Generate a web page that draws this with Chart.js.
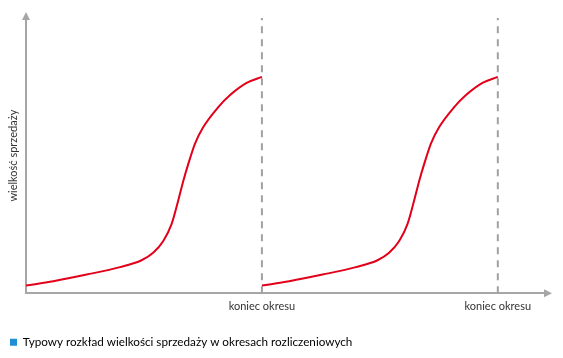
<!DOCTYPE html>
<html><head><meta charset="utf-8">
<script src="https://cdn.jsdelivr.net/npm/chart.js@4"></script>
<style>html,body{margin:0;padding:0;background:#fff}#wrap{width:563px;height:358px;position:relative}</style>
</head><body><div id="wrap"><canvas id="c" width="563" height="358"></canvas></div>
<script>
const periodX = [0, 0.116, 0.257, 0.398, 0.490, 0.539, 0.582, 0.617, 0.645, 0.667, 0.688, 0.716, 0.751, 0.815, 0.864, 0.935, 1.0];
const period2X = [1.0, 1.116, 1.257, 1.398, 1.490, 1.539, 1.582, 1.617, 1.645, 1.667, 1.688, 1.716, 1.751, 1.815, 1.864, 1.935, 2.0];
const salesPeriod1 = [2.8, 4.4, 6.8, 9.5, 12.0, 14.7, 19.0, 25.1, 33.6, 40.9, 47.0, 54.3, 60.3, 67.6, 71.9, 76.4, 78.6];
const salesPeriod2 = [2.8, 4.4, 6.8, 9.5, 12.0, 14.7, 19.0, 25.1, 33.6, 40.9, 47.0, 54.3, 60.3, 67.6, 71.9, 76.4, 78.6];
const periodEnds = [1, 2];
const tickLabel = 'koniec okresu';
const yTitle = 'wielkość sprzedaży';
const legendText = 'Typowy rozkład wielkości sprzedaży w okresach rozliczeniowych';

const FONT = 'Lato';
const toPts = (xs, ys) => xs.map((x, i) => ({x, y: ys[i]}));
const red = '#e2001a', gray = '#a6a6a6';

const datasets = [
  {data: toPts(periodX, salesPeriod1), borderColor: red, borderWidth: 2, pointRadius: 0, cubicInterpolationMode: 'monotone', fill: false},
  {data: toPts(period2X, salesPeriod2), borderColor: red, borderWidth: 2, pointRadius: 0, cubicInterpolationMode: 'monotone', fill: false}
];
periodEnds.forEach(px => datasets.push({data: [{x: px, y: 0}, {x: px, y: 100}], borderColor: '#a0a0a0', borderWidth: 2, borderDash: [7, 6], pointRadius: 0, fill: false, order: 5}));

const arrows = {
  id: 'arrows',
  afterDraw(chart) {
    const {ctx, chartArea: a} = chart;
    ctx.save();
    ctx.fillStyle = gray;
    ctx.beginPath();
    ctx.moveTo(a.left, a.top - 6); ctx.lineTo(a.left - 4, a.top + 2); ctx.lineTo(a.left + 4, a.top + 2); ctx.closePath(); ctx.fill();
    ctx.beginPath();
    ctx.moveTo(a.right + 7, a.bottom); ctx.lineTo(a.right - 1, a.bottom - 4); ctx.lineTo(a.right - 1, a.bottom + 4); ctx.closePath(); ctx.fill();
    ctx.restore();
  }
};

new Chart(document.getElementById('c'), {
  type: 'line',
  data: {datasets},
  plugins: [arrows],
  options: {
    responsive: false, animation: false,
    layout: {padding: {left: 0, right: 18, top: 18, bottom: 0}},
    plugins: {
      tooltip: {enabled: false},
      legend: {
        position: 'bottom', align: 'start',
        labels: {
          boxWidth: 7, boxHeight: 7, color: '#333', font: {family: FONT, size: 11.7}, padding: 10,
          generateLabels: () => [{text: legendText, fillStyle: '#1e8fd2', strokeStyle: '#1e8fd2', lineWidth: 0, datasetIndex: 0}]
        },
        onClick: null
      }
    },
    scales: {
      x: {
        type: 'linear', min: 0, max: 2.2,
        grid: {display: false, drawTicks: false},
        border: {color: gray, width: 2},
        afterBuildTicks: s => { s.ticks = periodEnds.map(v => ({value: v})); },
        afterFit: s => { s.height = 33; },
        ticks: {callback: () => tickLabel, color: '#333', font: {family: FONT, size: 11}, padding: 7, maxRotation: 0, autoSkip: false}
      },
      y: {
        min: 0, max: 100,
        grid: {display: false, drawTicks: false},
        border: {color: gray, width: 2},
        ticks: {display: false},
        afterFit: s => { s.width = 26; },
        title: {display: true, text: yTitle, color: '#333', font: {family: FONT, size: 11}, padding: {top: 7, bottom: 4}}
      }
    }
  }
});
</script></body></html>
